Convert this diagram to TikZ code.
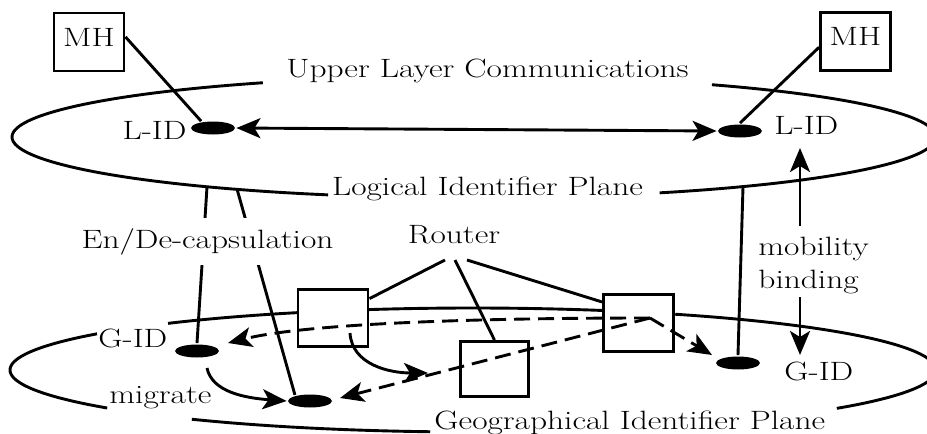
\documentclass[tikz,border=0pt]{standalone}
\usepackage{fontspec}
\usepackage{graphicx}
\usetikzlibrary{arrows.meta,shapes.geometric}
% wide setting of the label text
\newcommand{\wtext}[1]{\scalebox{1.26}[1]{#1}}
\newcommand{\lblfont}{\fontsize{26.5}{30}\selectfont\addfontfeatures{FakeBold=1}}

\begin{document}
\begin{tikzpicture}[x=1pt,y=-1pt,line width=2.9pt,
  lbl/.style={font=\lblfont, inner sep=0pt},
  hostbox/.style={draw, inner sep=0pt, text height=33pt, text depth=25pt,
    minimum width=70pt, font=\lblfont},
  routerbox/.style={draw, inner sep=0pt, minimum width=70pt, minimum height=57pt},
  idpoint/.style={ellipse, fill=black, draw=none, inner sep=0pt,
    minimum width=44pt, minimum height=13pt},
  flow/.style={-{Stealth[length=24pt,width=20pt,inset=6pt]}},
  twoway/.style={{Stealth[length=24pt,width=20pt,inset=6pt]}-{Stealth[length=24pt,width=20pt,inset=6pt]}},
  moved/.style={flow, dash pattern=on 16pt off 8pt}
]
\useasboundingbox (0,0) rectangle (927,434);

% logical identifier plane (outline broken by its labels)
\draw plot[domain=108.4:242.8, samples=80, variable=\t] ({474+462*cos(\t)},{137+61*sin(\t)});
\draw plot[domain=301:426.3, samples=80, variable=\t] ({474+462*cos(\t)},{137+61*sin(\t)});

% geographical identifier plane (outline broken by labels and routers)
\draw plot[domain=142.2:215.7, samples=60, variable=\t] ({473+463*cos(\t)},{370+62*sin(\t)});
\draw plot[domain=228.8:247.7, samples=20, variable=\t] ({473+463*cos(\t)},{370+62*sin(\t)});
\draw plot[domain=257:286.2, samples=30, variable=\t] ({473+463*cos(\t)},{370+62*sin(\t)});
\draw plot[domain=295.9:398.2, samples=80, variable=\t] ({473+463*cos(\t)},{370+62*sin(\t)});
\draw plot[domain=95.3:127.4, samples=30, variable=\t] ({473+463*cos(\t)},{370+62*sin(\t)});

% mobile hosts, identifiers and routers
\node[hostbox] (mhL) at (89,42) {\wtext{MH}};
\node[hostbox] (mhR) at (855.5,41.5) {\wtext{MH}};
\node[idpoint] (lidL) at (213,128) {};
\node[idpoint] (lidR) at (740,131) {};
\node[idpoint] (gidA) at (197,351) {};
\node[idpoint] (gidB) at (310,401) {};
\node[idpoint] (gidC) at (738,363) {};
\node[routerbox] (rtA) at (333,318) {};
\node[routerbox, minimum width=68pt, minimum height=55pt] (rtB) at (494.5,369) {};
\node[routerbox] (rtC) at (638.5,323) {};

% plain labels
\node[lbl, anchor=base] (ulc) at (487.5,77) {\wtext{Upper Layer Communications}};
\node[lbl, anchor=base] (lip) at (487.5,195) {\wtext{Logical Identifier Plane}};
\node[lbl, anchor=base east] (lidLt) at (188,139) {\wtext{L-ID}};
\node[lbl, anchor=base west] (lidRt) at (773,134) {\wtext{L-ID}};
\node[lbl, anchor=base west] (gidAt) at (97,347) {\wtext{G-ID}};
\node[lbl, anchor=base west] (gidCt) at (783,380) {\wtext{G-ID}};
\node[lbl, anchor=base west] (migt) at (108,403) {\wtext{migrate}};
\node[lbl, anchor=base west] (gip) at (433,429) {\wtext{Geographical Identifier Plane}};
\node[lbl, anchor=base] (rtr) at (454,243) {\wtext{Router}};

% free ends of connectors
\coordinate (encA) at (207,187);
\coordinate (encB) at (237,189);
\coordinate (bindC) at (743,187);
\coordinate (rtr1) at (445,260);
\coordinate (rtr2) at (455,260);
\coordinate (rtr3) at (467,260);
\coordinate (mbTop) at (800,148);
\coordinate (mbBot) at (800,355);
\coordinate (hopS) at (350,333);
\coordinate (hopE) at (428,373);
\coordinate (migS) at (207,368);
\coordinate (jn) at (650,318);
\coordinate (toA) at (228,343);
\coordinate (toB) at (340,398);
\coordinate (toC) at (712,355);

% host attachments
\draw (mhL.8) -- (lidL.150);
\draw (mhR.189) -- (lidR.north);
\draw[twoway] (lidL.east) -- (lidR.west);

% plane-to-plane links
\draw (encA) -- (gidA.north);
\draw (encB) -- (gidB.158);
\draw (bindC) -- (gidC.north);
\draw[twoway] (mbTop) -- (mbBot);

% router callouts
\draw (rtr1) -- (rtA.28);
\draw (rtr2) -- (rtB.north);
\draw (rtr3) -- (rtC.150);

% forwarding and migration
\draw[flow] (hopS) .. controls (352,365) and (390,373) .. (hopE);
\draw[flow] (migS) .. controls (212,392) and (245,398) .. (gidB.west);
\draw[moved] (jn) .. controls (450,318) and (300,325) .. (toA);
\draw[moved] (jn) -- (toC);
\draw[moved] (jn) -- (toB);

% labels laid over the links
\node[lbl, anchor=base, fill=white, inner xsep=3pt, inner ysep=10pt] (encap) at (207.5,248) {\wtext{En/De-capsulation}};
\node[lbl, anchor=base west, fill=white, inner xsep=2pt, inner ysep=11pt] (mob) at (755,255) {\wtext{mobility}};
\node[lbl, anchor=base west, fill=white, inner xsep=2pt, inner ysep=4pt] (bnd) at (755,288) {\wtext{binding}};
\end{tikzpicture}
\end{document}
